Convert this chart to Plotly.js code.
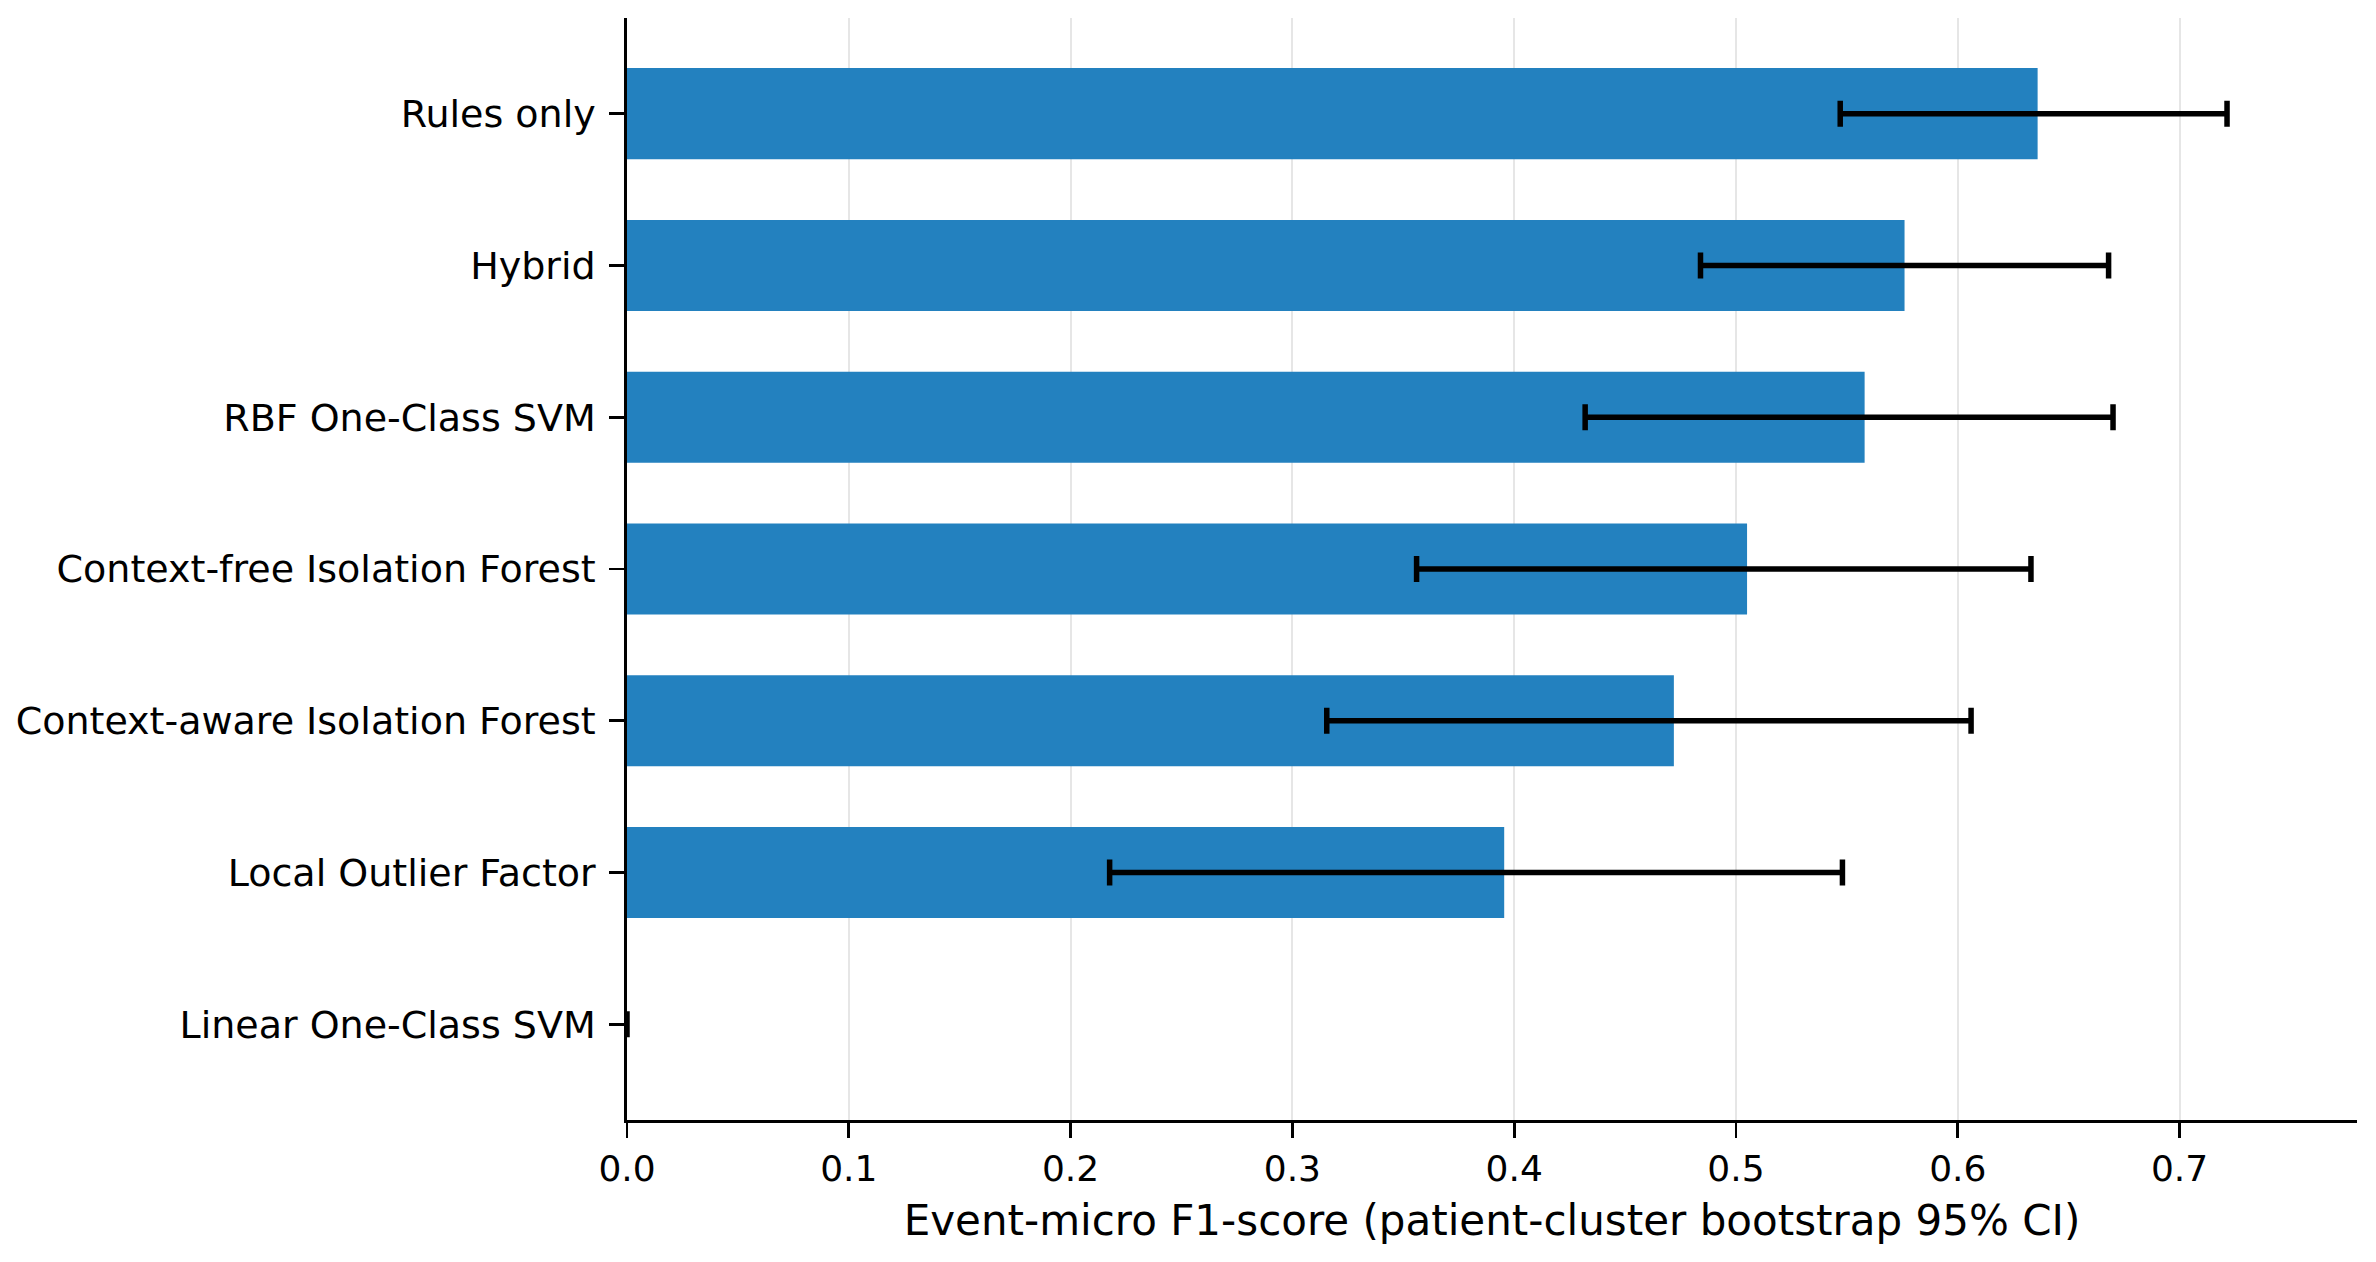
<!DOCTYPE html>
<html>
<head>
<meta charset="utf-8">
<script src="https://cdn.plot.ly/plotly-3.0.1.min.js"></script>
<style>html,body{margin:0;padding:0;background:#fff;}#chart{width:2376px;height:1262px;}</style>
</head>
<body>
<div id="chart"></div>
<script>
const categories = ["Rules only", "Hybrid", "RBF One-Class SVM", "Context-free Isolation Forest", "Context-aware Isolation Forest", "Local Outlier Factor", "Linear One-Class SVM"];
const f1Score = [0.636, 0.576, 0.558, 0.505, 0.472, 0.3955, 0.0];
const ciLow = [0.547, 0.484, 0.432, 0.356, 0.3155, 0.2176, 0.0];
const ciHigh = [0.7214, 0.668, 0.670, 0.633, 0.606, 0.548, 0.0];
const xTicks = [0.0, 0.1, 0.2, 0.3, 0.4, 0.5, 0.6, 0.7];
const xTitle = "Event-micro F1-score (patient-cluster bootstrap 95% CI)";

const plus = f1Score.map((v, i) => ciHigh[i] - v);
const minus = f1Score.map((v, i) => v - ciLow[i]);

const trace = {
  type: "bar",
  orientation: "h",
  x: f1Score,
  y: categories,
  width: 0.6,
  marker: {color: "#2381bf", line: {width: 0}},
  error_x: {
    type: "data",
    symmetric: false,
    array: plus,
    arrayminus: minus,
    color: "#000000",
    thickness: 5.5,
    width: 13
  },
  hoverinfo: "skip"
};

const layout = {
  width: 2376,
  height: 1262,
  autosize: false,
  margin: {l: 627, r: 19, t: 18, b: 142, pad: 0},
  paper_bgcolor: "#ffffff",
  plot_bgcolor: "#ffffff",
  showlegend: false,
  font: {family: "DejaVu Sans", color: "#000000"},
  xaxis: {
    range: [0, 0.78],
    tickvals: xTicks,
    ticktext: xTicks.map(v => v.toFixed(1)),
    showgrid: true,
    gridcolor: "#e6e6e6",
    gridwidth: 2,
    zeroline: false,
    showline: true,
    linecolor: "#000000",
    linewidth: 2.7,
    ticks: "outside",
    ticklen: 15,
    tickwidth: 2.7,
    tickcolor: "#000000",
    tickfont: {size: 36, family: "DejaVu Sans", color: "#000000"},
    title: {text: xTitle, font: {size: 42, family: "DejaVu Sans", color: "#000000"}, standoff: 18}
  },
  yaxis: {
    type: "category",
    range: [6.63, -0.63],
    showgrid: false,
    zeroline: false,
    showline: true,
    linecolor: "#000000",
    linewidth: 2.7,
    ticks: "outside",
    ticklen: 15,
    tickwidth: 2.7,
    tickcolor: "#000000",
    ticklabelstandoff: 6,
    tickfont: {size: 38, family: "DejaVu Sans", color: "#000000"}
  }
};

Plotly.newPlot("chart", [trace], layout, {displayModeBar: false, staticPlot: true});
</script>
</body>
</html>
